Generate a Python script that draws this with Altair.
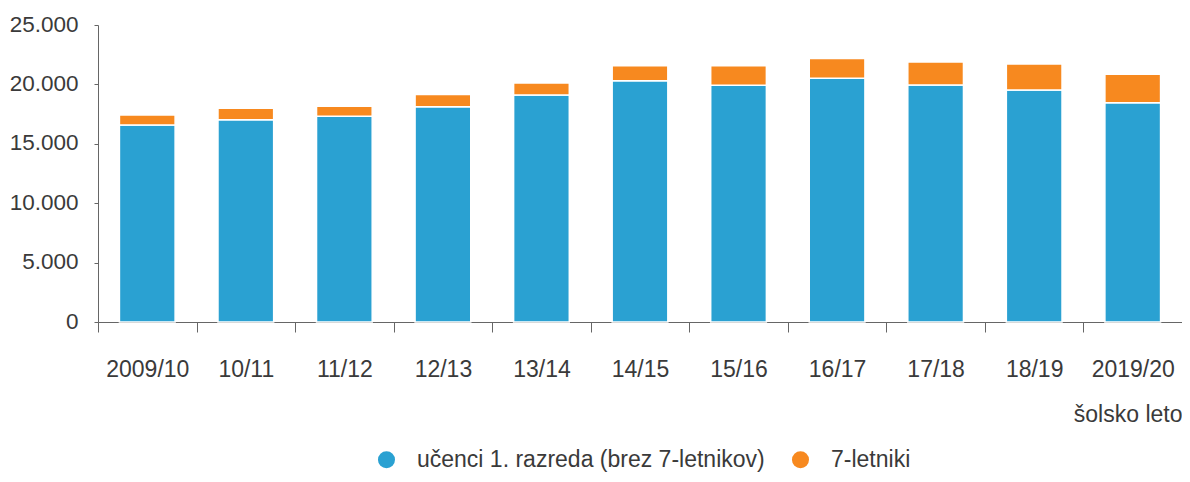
import altair as alt
import pandas as pd

years = ["2009/10", "10/11", "11/12", "12/13", "13/14", "14/15", "15/16", "16/17", "17/18", "18/19", "2019/20"]
ucenci = [16580, 17020, 17310, 18120, 19100, 20310, 19920, 20510, 19940, 19520, 18460]
letniki7 = [840, 970, 850, 1040, 1020, 1270, 1660, 1680, 1940, 2200, 2390]
series = ["učenci 1. razreda (brez 7-letnikov)", "7-letniki"]
colors = ["#2AA1D2", "#F7891F"]
y_ticks = [0, 5000, 10000, 15000, 20000, 25000]

rows = []
for i, y in enumerate(years):
    rows.append({"leto": y, "serija": series[0], "vrednost": ucenci[i], "red": 0})
    rows.append({"leto": y, "serija": series[1], "vrednost": letniki7[i], "red": 1})
df = pd.DataFrame(rows)

FONT = "Liberation Sans, Arial, sans-serif"
TXT = "#3a3a3a"
AX = "#666666"

chart = alt.Chart(df).mark_bar(
    stroke="white", strokeWidth=1.5, width=alt.RelativeBandSize(0.565)
).encode(
    x=alt.X("leto:N", sort=years,
            scale=alt.Scale(paddingInner=0, paddingOuter=0),
            axis=alt.Axis(title="šolsko leto", labelAngle=0, tickBand="extent",
                          tickSize=10, labelPadding=44, labelBaseline="alphabetic",
                          labelFontSize=23, labelFont=FONT, labelColor=TXT,
                          domainColor=AX, tickColor=AX,
                          titleFont=FONT, titleFontSize=23, titleFontWeight="normal",
                          titleColor=TXT, titleX=1084, titleY=99, titleAlign="right",
                          titleBaseline="alphabetic", grid=False)),
    y=alt.Y("vrednost:Q", stack="zero",
            scale=alt.Scale(domain=[0, 25000], nice=False),
            axis=alt.Axis(title=None, values=y_ticks, tickSize=4, labelPadding=16,
                          labelExpr="replace(format(datum.value, ','), ',', '.')",
                          labelBaseline="alphabetic", labelOffset=6,
                          labelFontSize=22.5, labelFont=FONT, labelColor=TXT,
                          domainColor=AX, tickColor=AX, grid=False)),
    color=alt.Color("serija:N", sort=series,
                    scale=alt.Scale(domain=series, range=colors),
                    legend=alt.Legend(title=None, orient="none", direction="horizontal",
                                      legendX=277, legendY=423, symbolType="circle",
                                      symbolSize=290, symbolStrokeWidth=0,
                                      labelOffset=19, columnPadding=24, labelLimit=0,
                                      labelFont=FONT, labelFontSize=23, labelColor=TXT,
                                      padding=0)),
    order=alt.Order("red:Q"),
).properties(
    width=1084, height=297,
    autosize=alt.AutoSizeParams(type="none"),
    padding={"left": 90, "top": 17, "right": 0, "bottom": 152},
).configure(background="white").configure_view(strokeWidth=0, stroke="transparent")

chart.save("out.html", embed_options={"renderer": "svg", "actions": False})
